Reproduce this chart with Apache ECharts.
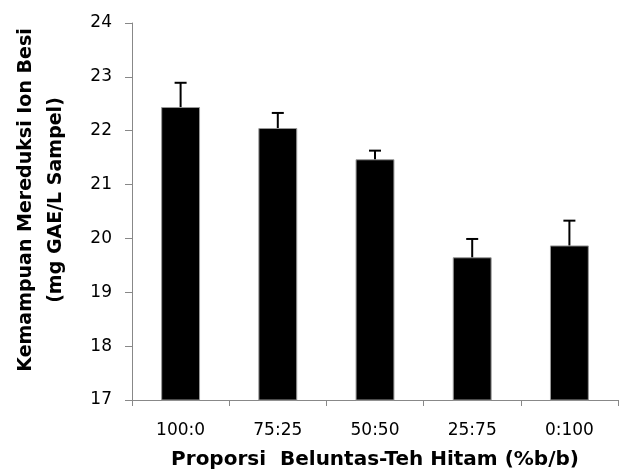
<!DOCTYPE html>
<html><head><meta charset="utf-8">
<script src="https://cdn.jsdelivr.net/npm/echarts@6/dist/echarts.min.js"></script>
<style>html,body{margin:0;padding:0;background:#fff}#c{width:625px;height:473px}</style>
</head><body><div id="c"></div>
<script>
const categories = ['100:0', '75:25', '50:50', '25:75', '0:100'];
const values = [22.44, 22.05, 21.47, 19.65, 19.87];
const errors = [0.45, 0.28, 0.16, 0.34, 0.46];
const yTicks = [17, 18, 19, 20, 21, 22, 23, 24];

const chart = echarts.init(document.getElementById('c'));
const FONT = 'DejaVu Sans';
chart.setOption({
  animation: false,
  grid: { left: 132, right: 7, top: 23, bottom: 73, containLabel: false, outerBoundsMode: 'none' },
  xAxis: {
    type: 'category', data: categories,
    axisLine: { lineStyle: { color: '#888', width: 1 } },
    axisTick: { show: true, length: 6, lineStyle: { color: '#888' } },
    axisLabel: { color: '#000', fontFamily: FONT, fontSize: 17, margin: 22 },
    name: 'Proporsi  Beluntas-Teh Hitam (%b/b)', nameLocation: 'middle', nameGap: 50,
    nameTextStyle: { color: '#000', fontFamily: FONT, fontSize: 20, fontWeight: 'bold' }
  },
  yAxis: {
    type: 'value', min: yTicks[0], max: yTicks[yTicks.length - 1], interval: 1,
    splitLine: { show: false },
    axisLine: { show: true, lineStyle: { color: '#888', width: 1 } },
    axisTick: { show: true, length: 7, lineStyle: { color: '#888' } },
    axisLabel: { color: '#000', fontFamily: FONT, fontSize: 17, margin: 20 }
  },
  graphic: [{
    type: 'text', x: 41.5, y: 200, rotation: Math.PI / 2,
    style: {
      text: 'Kemampuan Mereduksi Ion Besi\n(mg GAE/L Sampel)',
      x: 0, y: 0,
      fill: '#000', font: 'bold 19px "DejaVu Sans"', align: 'center', verticalAlign: 'middle', lineHeight: 30
    }
  }],
  series: [{
    type: 'bar', data: values, barWidth: '40%',
    itemStyle: { color: '#000', borderColor: '#999', borderWidth: 1 }
  }, {
    type: 'custom',
    data: values.map((v, i) => [i, v, v + errors[i]]),
    z: 10,
    renderItem: function (params, api) {
      const base = api.coord([api.value(0), api.value(1)]);
      const top = api.coord([api.value(0), api.value(2)]);
      const hw = 6;
      return {
        type: 'group',
        children: [
          { type: 'line', shape: { x1: base[0], y1: base[1], x2: top[0], y2: top[1] }, style: { stroke: '#000', lineWidth: 2 } },
          { type: 'line', shape: { x1: top[0] - hw, y1: top[1], x2: top[0] + hw, y2: top[1] }, style: { stroke: '#000', lineWidth: 2 } }
        ]
      };
    }
  }]
});
</script></body></html>
